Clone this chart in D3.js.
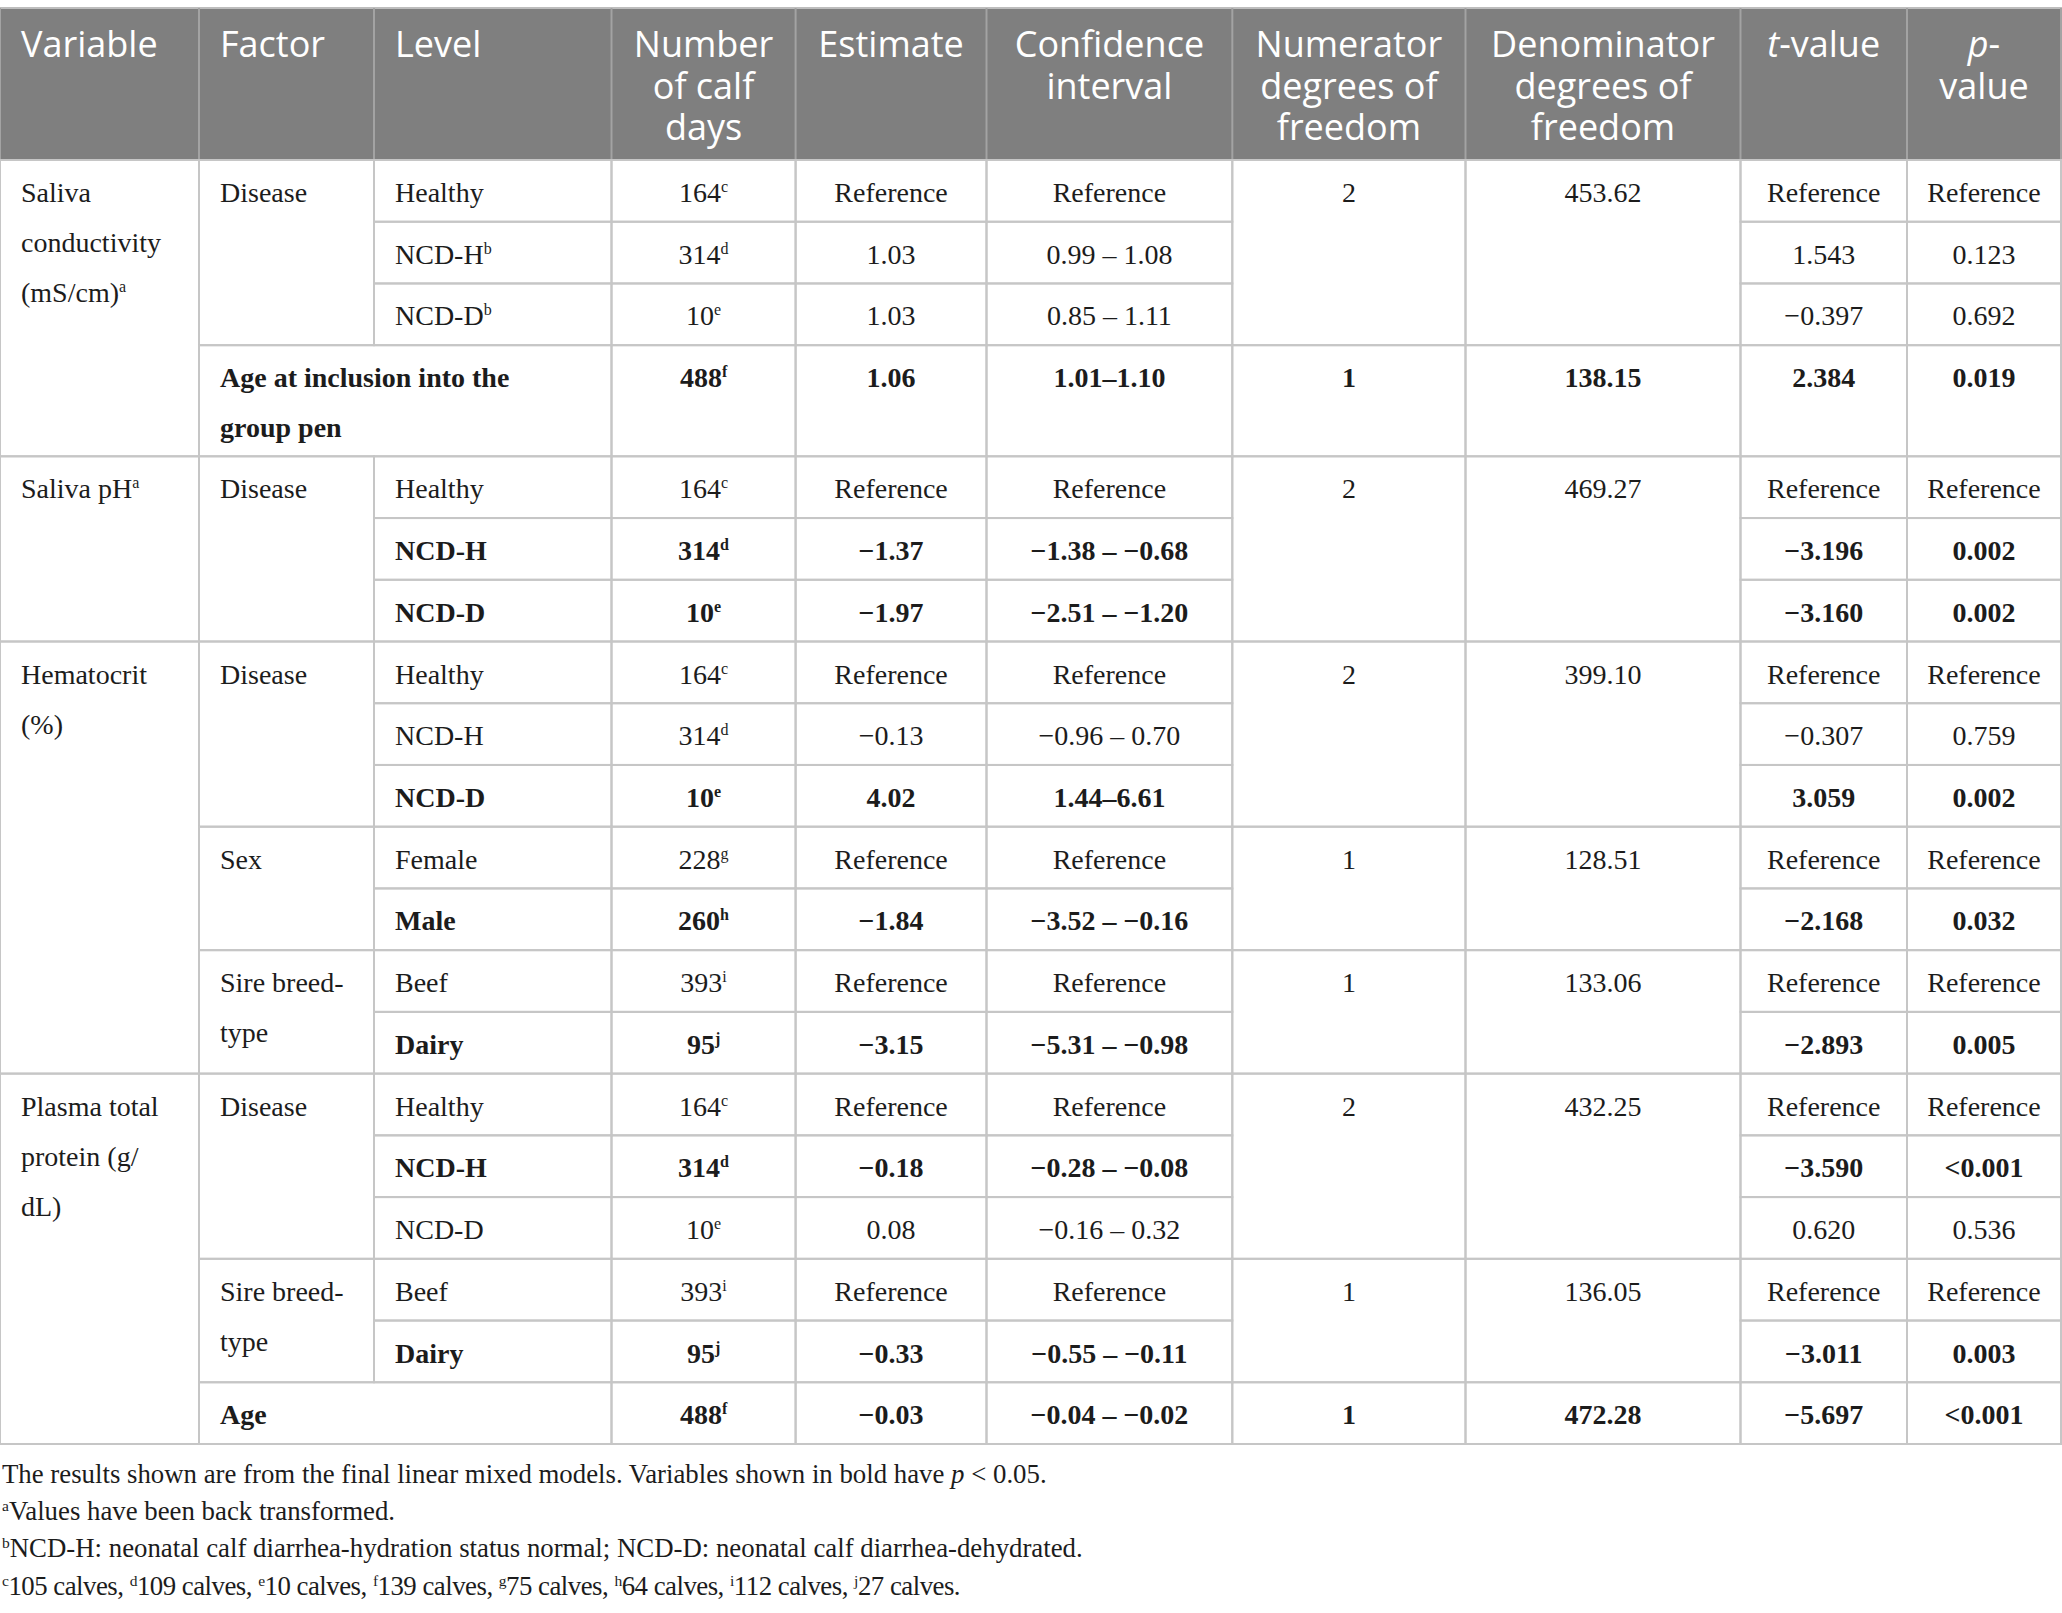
<!DOCTYPE html>
<html>
<head>
<meta charset="utf-8">
<script src="https://cdn.jsdelivr.net/npm/d3@7"></script>
<style>
  html, body { margin: 0; padding: 0; background: #ffffff; }
  svg { display: block; }
</style>
</head>
<body>
<svg id="chart" width="2062" height="1613"></svg>
<script>
// ---------------- DATA ----------------
const headers = [
  [[{t:"Variable"}]],
  [[{t:"Factor"}]],
  [[{t:"Level"}]],
  [[{t:"Number"}],[{t:"of calf"}],[{t:"days"}]],
  [[{t:"Estimate"}]],
  [[{t:"Confidence"}],[{t:"interval"}]],
  [[{t:"Numerator"}],[{t:"degrees of"}],[{t:"freedom"}]],
  [[{t:"Denominator"}],[{t:"degrees of"}],[{t:"freedom"}]],
  [[{t:"t", it:true},{t:"-value"}]],
  [[{t:"p", it:true},{t:"-"}],[{t:"value"}]]
];
const headerAlign = ["start","start","start","middle","middle","middle","middle","middle","middle","middle"];

const variableLines = [
  ["Saliva","conductivity","(mS/cm)"],
  ["Saliva pH"],
  ["Hematocrit","(%)"],
  ["Plasma total","protein (g/","dL)"]
];
const variableSup = ["a","a","",""];

const rowVariable = [0,0,0,0, 1,1,1, 2,2,2,2,2,2,2, 3,3,3,3,3,3];
const rowFactor = [
  "Disease","Disease","Disease","Age at inclusion into the group pen",
  "Disease","Disease","Disease",
  "Disease","Disease","Disease","Sex","Sex","Sire breed-type","Sire breed-type",
  "Disease","Disease","Disease","Sire breed-type","Sire breed-type","Age"
];
const factorLines = {
  "Disease": ["Disease"],
  "Sex": ["Sex"],
  "Sire breed-type": ["Sire breed-","type"],
  "Age at inclusion into the group pen": ["Age at inclusion into the","group pen"],
  "Age": ["Age"]
};
const rowLevel = [
  "Healthy","NCD-H","NCD-D","",
  "Healthy","NCD-H","NCD-D",
  "Healthy","NCD-H","NCD-D","Female","Male","Beef","Dairy",
  "Healthy","NCD-H","NCD-D","Beef","Dairy",""
];
const levelSup = ["","b","b","", "","","", "","","","","","","", "","","","","",""];
const nDays = ["164","314","10","488", "164","314","10", "164","314","10","228","260","393","95", "164","314","10","393","95","488"];
const nSup  = ["c","d","e","f", "c","d","e", "c","d","e","g","h","i","j", "c","d","e","i","j","f"];
const estimates = ["Reference","1.03","1.03","1.06",
  "Reference","\u22121.37","\u22121.97",
  "Reference","\u22120.13","4.02","Reference","\u22121.84","Reference","\u22123.15",
  "Reference","\u22120.18","0.08","Reference","\u22120.33","\u22120.03"];
const confInt = ["Reference","0.99 \u2013 1.08","0.85 \u2013 1.11","1.01\u20131.10",
  "Reference","\u22121.38 \u2013 \u22120.68","\u22122.51 \u2013 \u22121.20",
  "Reference","\u22120.96 \u2013 0.70","1.44\u20136.61","Reference","\u22123.52 \u2013 \u22120.16","Reference","\u22125.31 \u2013 \u22120.98",
  "Reference","\u22120.28 \u2013 \u22120.08","\u22120.16 \u2013 0.32","Reference","\u22120.55 \u2013 \u22120.11","\u22120.04 \u2013 \u22120.02"];
const numDf = ["2","2","2","1", "2","2","2", "2","2","2","1","1","1","1", "2","2","2","1","1","1"];
const denDf = ["453.62","453.62","453.62","138.15", "469.27","469.27","469.27",
  "399.10","399.10","399.10","128.51","128.51","133.06","133.06",
  "432.25","432.25","432.25","136.05","136.05","472.28"];
const tValues = ["Reference","1.543","\u22120.397","2.384",
  "Reference","\u22123.196","\u22123.160",
  "Reference","\u22120.307","3.059","Reference","\u22122.168","Reference","\u22122.893",
  "Reference","\u22123.590","0.620","Reference","\u22123.011","\u22125.697"];
const pValues = ["Reference","0.123","0.692","0.019",
  "Reference","0.002","0.002",
  "Reference","0.759","0.002","Reference","0.032","Reference","0.005",
  "Reference","<0.001","0.536","Reference","0.003","<0.001"];
const rowBold = [0,0,0,1, 0,1,1, 0,0,1,0,1,0,1, 0,1,0,0,1,1];
const rowUnits = [1,1,1,1.8, 1,1,1, 1,1,1,1,1,1,1, 1,1,1,1,1,1];

const footnotes = [
  [{t:"The results shown are from the final linear mixed models. Variables shown in bold have "},{t:"p",it:true},{t:" < 0.05."}],
  [{t:"a",sup:true},{t:"Values have been back transformed."}],
  [{t:"b",sup:true},{t:"NCD-H: neonatal calf diarrhea-hydration status normal; NCD-D: neonatal calf diarrhea-dehydrated."}],
  [{t:"c",sup:true},{t:"105 calves, "},{t:"d",sup:true},{t:"109 calves, "},{t:"e",sup:true},{t:"10 calves, "},{t:"f",sup:true},{t:"139 calves, "},
   {t:"g",sup:true},{t:"75 calves, "},{t:"h",sup:true},{t:"64 calves, "},{t:"i",sup:true},{t:"112 calves, "},{t:"j",sup:true},{t:"27 calves."}]
];
const footnoteSpacing = [0, 0, 0, -0.5];

// ---------------- LAYOUT ----------------
const svg = d3.select("#chart");
const colEdges = [0,199,374,611.5,795.6,986.5,1232.3,1465.5,1740.5,1907,2061];
const x = d3.scaleLinear().domain(d3.range(colEdges.length)).range(colEdges);
const cum = [0]; rowUnits.forEach((u,i)=>cum.push(cum[i]+u));
const y = d3.scaleLinear().domain([0, cum[cum.length-1]]).range([160, 1444]);
const rowTop = i => y(cum[i]);
const rowBot = i => y(cum[i+1]);

const serif = "'Liberation Serif', 'Times New Roman', serif";
const sans = "'Open Sans', 'Noto Sans', sans-serif";
const textColor = "#1c1c1c";
const lineColor = "#c6c6c6";
const padX = 21, baseOff = 42, lineGap = 50;

// write a multi-line rich text into one <text> element
function richLines(textSel, lines, tx, lineStep, supSize, supRise) {
  lines.forEach((parts, li) => {
    let raised = false;
    parts.forEach((p, pi) => {
      const ts = textSel.append("tspan").text(p.t);
      if (pi === 0) ts.attr("x", tx).attr("dy", li === 0 ? 0 : lineStep);
      if (p.it) ts.attr("font-style","italic");
      if (p.sup) {
        ts.attr("font-size", supSize).attr("dy", (pi === 0 && li > 0 ? lineStep : 0) - supRise);
        raised = true;
      } else if (raised && pi > 0) {
        ts.attr("dy", supRise);
        raised = false;
      }
    });
    if (raised) {
      textSel.append("tspan").attr("dy", supRise).text("");
    }
  });
}

// ---- header ----
const gH = svg.append("g");
gH.append("rect").attr("x",0).attr("y",8).attr("width",2062).attr("height",152)
  .attr("fill","#7f7f7f");
gH.append("line").attr("x1",0).attr("x2",2062).attr("y1",8).attr("y2",8)
  .attr("stroke","#bdbdbd").attr("stroke-width",2);
gH.selectAll("line.sep").data(colEdges).join("line").attr("class","sep")
  .attr("x1",d=>d).attr("x2",d=>d).attr("y1",8).attr("y2",160)
  .attr("stroke","#a3a3a3").attr("stroke-width",2);
headers.forEach((lines, c) => {
  const cx = headerAlign[c]==="start" ? x(c)+padX : (x(c)+x(c+1))/2;
  const t = gH.append("text").attr("x",cx).attr("y",57)
    .attr("text-anchor",headerAlign[c]).attr("font-family",sans)
    .attr("font-size",36).attr("fill","#ffffff");
  richLines(t, lines, cx, 41.5, 22, 12);
});

// ---- body cells ----
const gB = svg.append("g");
function cellRect(c0, c1, r0, r1) {
  gB.append("rect").attr("x",x(c0)).attr("y",rowTop(r0))
    .attr("width",x(c1)-x(c0)).attr("height",rowBot(r1)-rowTop(r0))
    .attr("fill","none").attr("stroke",lineColor).attr("stroke-width",2);
}
function cellText(c0, c1, r, lines, opts) {
  opts = opts || {};
  const anchor = opts.align || "middle";
  const tx = anchor==="start" ? x(c0)+padX : (x(c0)+x(c1))/2;
  const t = gB.append("text").attr("x",tx).attr("y",rowTop(r)+baseOff)
    .attr("text-anchor",anchor).attr("font-family",serif).attr("font-size",28)
    .attr("font-weight",opts.bold?"bold":"normal").attr("fill",textColor);
  const parts = lines.map((ln, li) => {
    const p = [{t:ln}];
    if (opts.sup && li===lines.length-1) p.push({t:opts.sup, sup:true});
    return p;
  });
  richLines(t, parts, tx, lineGap, 16, 10);
}
function groups(keyFn) {
  const out = []; let start = 0;
  for (let i=1;i<=rowVariable.length;i++) {
    if (i===rowVariable.length || keyFn(i)!==keyFn(start)) { out.push([start,i-1]); start=i; }
  }
  return out;
}

// variables
groups(i=>rowVariable[i]).forEach(([a,b])=>{
  cellRect(0,1,a,b);
  cellText(0,1,a,variableLines[rowVariable[a]],{align:"start",sup:variableSup[rowVariable[a]]});
});
// factors (+ numerator / denominator df)
groups(i=>rowVariable[i]+"|"+rowFactor[i]).forEach(([a,b])=>{
  const span = rowLevel[a]==="";
  const bold = span && rowBold[a]===1;
  cellRect(1, span?3:2, a, b);
  cellText(1, span?3:2, a, factorLines[rowFactor[a]], {align:"start",bold:bold});
  cellRect(6,7,a,b); cellText(6,7,a,[numDf[a]],{bold:bold});
  cellRect(7,8,a,b); cellText(7,8,a,[denDf[a]],{bold:bold});
});
// per-row cells
rowVariable.forEach((v,i)=>{
  const bold = rowBold[i]===1;
  if (rowLevel[i]!=="") {
    cellRect(2,3,i,i);
    cellText(2,3,i,[rowLevel[i]],{align:"start",bold:bold,sup:levelSup[i]});
  }
  cellRect(3,4,i,i); cellText(3,4,i,[nDays[i]],{bold:bold,sup:nSup[i]});
  cellRect(4,5,i,i); cellText(4,5,i,[estimates[i]],{bold:bold});
  cellRect(5,6,i,i); cellText(5,6,i,[confInt[i]],{bold:bold});
  cellRect(8,9,i,i); cellText(8,9,i,[tValues[i]],{bold:bold});
  cellRect(9,10,i,i); cellText(9,10,i,[pValues[i]],{bold:bold});
});

// ---- footnotes ----
const gF = svg.append("g");
footnotes.forEach((parts, i)=>{
  const t = gF.append("text").attr("x",2).attr("y",1483 + i*37.2)
    .attr("font-family",serif).attr("font-size",26.8).attr("fill",textColor)
    .attr("letter-spacing", footnoteSpacing[i]);
  richLines(t, [parts], 2, 0, 15.5, 9);
});
</script>
</body>
</html>
